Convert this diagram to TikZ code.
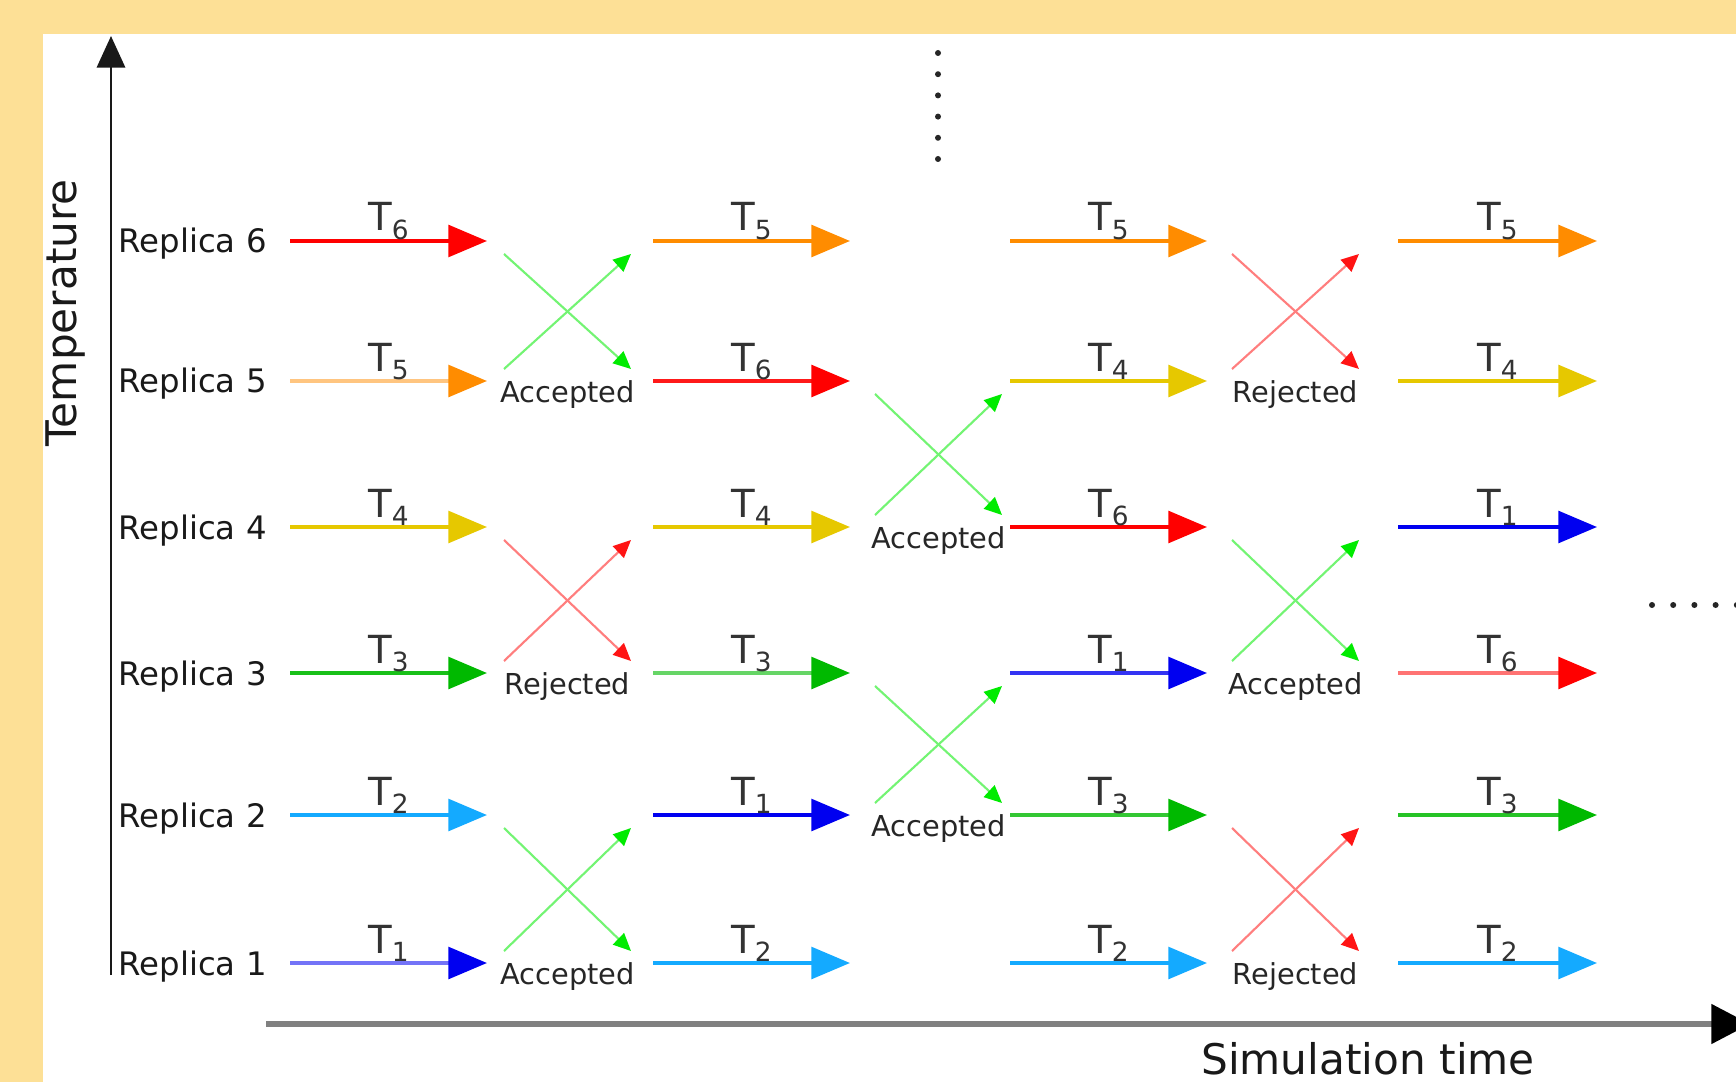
\documentclass[tikz,border=0pt]{standalone}
\usepackage{fontspec}
\setmainfont{DejaVu Sans}
\usetikzlibrary{arrows.meta, calc}

\definecolor{panelbg}{RGB}{253,224,150}
\definecolor{tc1}{RGB}{0,0,240}
\definecolor{tc2}{RGB}{20,170,255}
\definecolor{tc3}{RGB}{0,185,0}
\definecolor{tc4}{RGB}{230,200,0}
\definecolor{tc5}{RGB}{255,140,0}
\definecolor{tc6}{RGB}{255,0,0}
\definecolor{acc}{RGB}{0,235,0}
\definecolor{rej}{RGB}{255,20,20}

\begin{document}
\begin{tikzpicture}[x=0.01cm, y=-0.01cm,
    replabel/.style={anchor=base west, inner sep=0pt, font=\fontsize{9.2}{11}\selectfont, text=black!90},
    tlabel/.style={anchor=base, inner sep=0pt, font=\fontsize{11}{13}\selectfont, text=black!80},
    swaplabel/.style={anchor=base, inner sep=0pt, font=\fontsize{8.2}{10}\selectfont, text=black!85},
    swaparrow/.style={line width=0.6pt, draw=#1!55!white, -{Triangle[length=5pt, width=4.5pt, color=#1]}},
    tdot/.style={fill=black!85}
]

    % 1. Yellow frame and white panel
    \useasboundingbox (0,0) rectangle (1736,1082);
    \fill[panelbg] (0,0) rectangle (1736,1082);
    \fill[white] (43,34) rectangle (1736,1082);

    % 2. Axes
    \coordinate (yaxis-s) at (111,975);
    \coordinate (yaxis-e) at (111,36);
    \draw[line width=0.85pt, draw=black!90, -{Triangle[length=9pt, width=8pt]}] (yaxis-s) -- (yaxis-e);
    \coordinate (xaxis-s) at (266,1024);
    \coordinate (xaxis-e) at (1750,1024);
    \draw[line width=1.7pt, draw=black!50, -{Triangle[length=11pt, width=11pt, color=black]}] (xaxis-s) -- (xaxis-e);

    \node[rotate=90, anchor=base, inner sep=0pt, font=\fontsize{12}{14}\selectfont, text=black!90]
        (templabel) at (76,313) {Temperature};
    \node[anchor=base, inner sep=0pt, font=\fontsize{12}{14}\selectfont, text=black!90]
        (timelabel) at (1368,1074) {Simulation time};

    % 3. Rows (replicas) and columns (time steps)
    \foreach \r/\y in {6/241, 5/381, 4/527, 3/673, 2/815, 1/963} {
        \coordinate (row\r) at (118,\y);
        \node[replabel] (rep\r) at ($(row\r)+(0,12)$) {Replica \r};
    }
    \foreach \c/\xs/\xe in {1/290/487, 2/653/850, 3/1010/1207, 4/1398/1597} {
        \coordinate (cs\c) at (\xs,0);
        \coordinate (ce\c) at (\xe,0);
    }

    % 4. Temperature arrows: column/row/temperature/line shade
    \foreach \c/\r/\t/\shade in {
        1/6/6/100, 1/5/5/50,  1/4/4/100, 1/3/3/90,  1/2/2/100, 1/1/1/55,
        2/6/5/100, 2/5/6/90,  2/4/4/100, 2/3/3/60,  2/2/1/100, 2/1/2/100,
        3/6/5/100, 3/5/4/100, 3/4/6/100, 3/3/1/80,  3/2/3/80,  3/1/2/100,
        4/6/5/100, 4/5/4/100, 4/4/1/100, 4/3/6/55,  4/2/3/85,  4/1/2/100%
    } {
        \draw[line width=1.1pt, draw=tc\t!\shade!white, -{Triangle[length=11pt, width=9pt, color=tc\t]}]
            (row\r -| cs\c) -- (row\r -| ce\c);
        \node[tlabel] (tl\c-\r) at ($(row\r -| cs\c)!0.5!(row\r -| ce\c)+(0,-10)$)
            {T\raisebox{-2.5pt}{\fontsize{7.5}{8}\selectfont\t}};
    }

    % 5. Exchange attempts between neighbouring replicas
    \foreach \g/\xa/\xb in {1/504/631, 2/875/1002, 3/1232/1359} {
        \coordinate (ga\g) at (\xa,0);
        \coordinate (gb\g) at (\xb,0);
    }
    \foreach \g/\up/\lo/\res/\col in {
        1/6/5/Accepted/acc, 1/4/3/Rejected/rej, 1/2/1/Accepted/acc,
        2/5/4/Accepted/acc, 2/3/2/Accepted/acc,
        3/6/5/Rejected/rej, 3/4/3/Accepted/acc, 3/2/1/Rejected/rej%
    } {
        \draw[swaparrow=\col] ($(row\up -| ga\g)+(0,13)$) -- ($(row\lo -| gb\g)+(0,-12)$);
        \draw[swaparrow=\col] ($(row\lo -| ga\g)+(0,-12)$) -- ($(row\up -| gb\g)+(0,13)$);
        \node[swaplabel] (sw\g-\lo) at ($(row\lo -| ga\g)!0.5!(row\lo -| gb\g)+(0,21)$) {\res};
    }

    % 6. Dots: more replicas above, more steps to the right
    \foreach \i in {0,...,5} {
        \fill[tdot] (938,53+21.2*\i) circle (0.03cm);
    }
    \foreach \i in {0,...,4} {
        \fill[tdot] (1652+21.2*\i,605) circle (0.03cm);
    }

\end{tikzpicture}
\end{document}
